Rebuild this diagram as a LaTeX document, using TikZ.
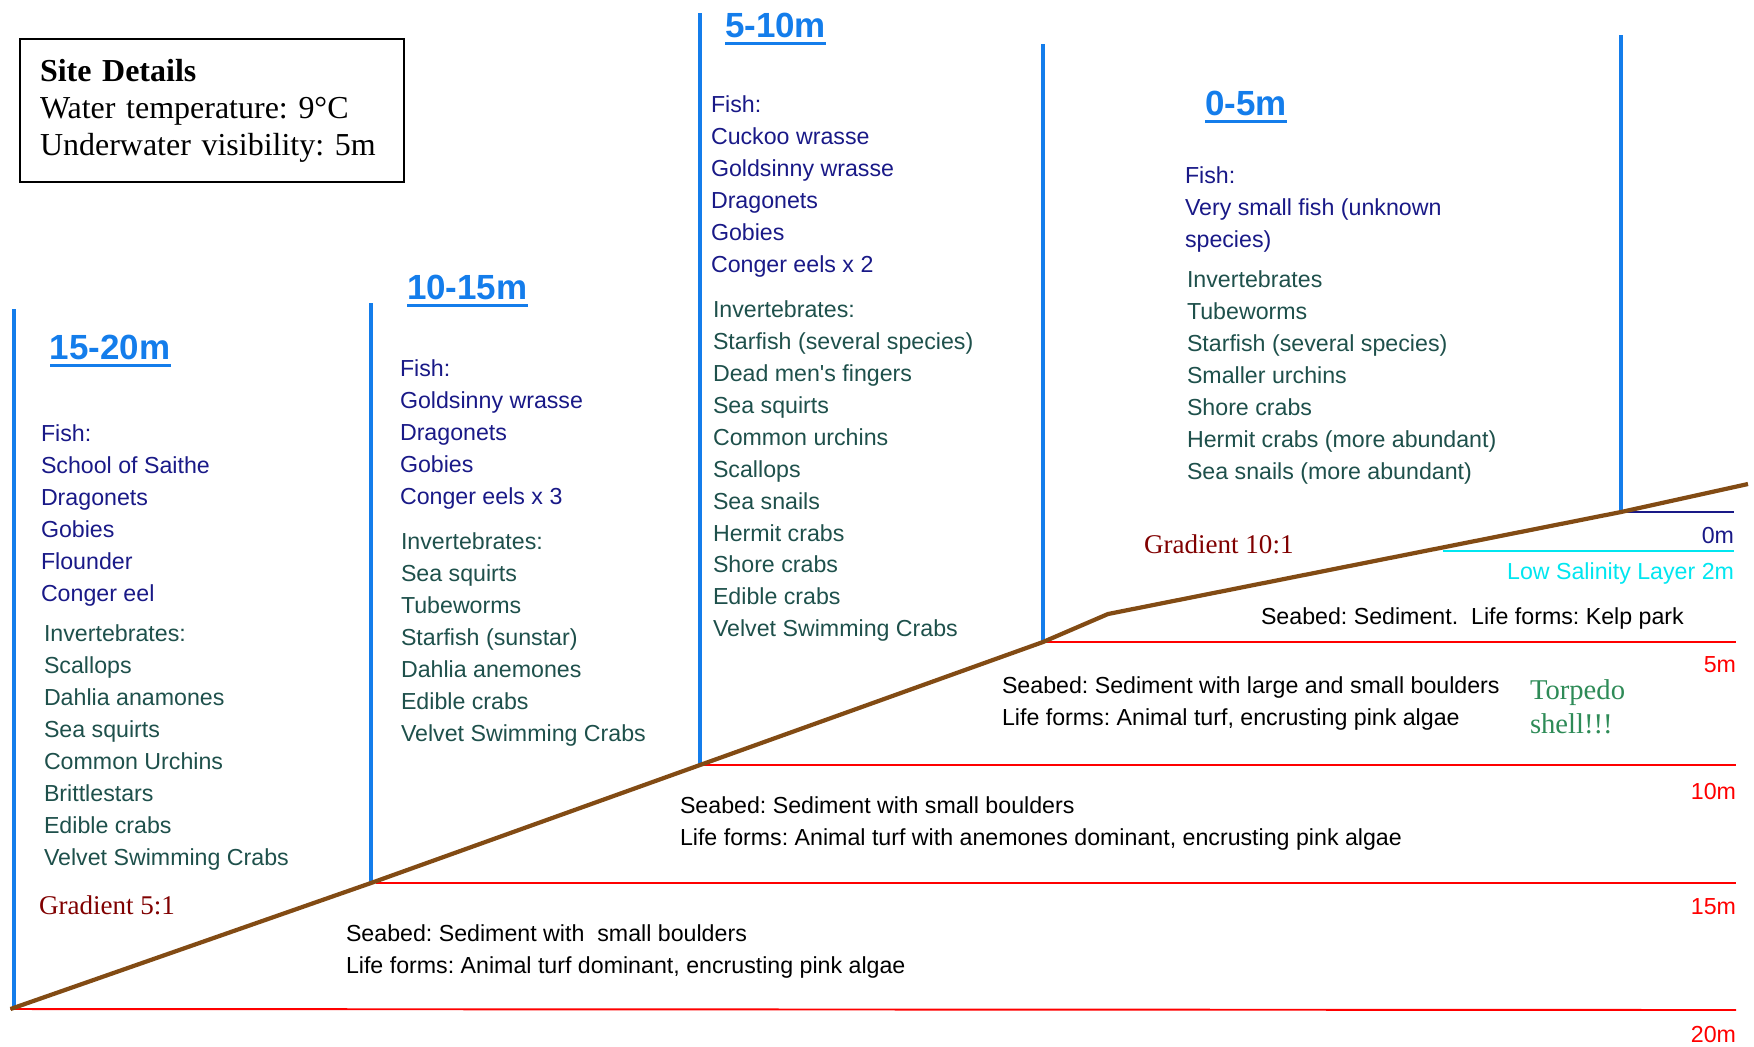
\documentclass[tikz,border=0pt]{standalone}
\usepackage{fontspec}
\setmainfont{Liberation Serif}
\setsansfont{Liberation Sans}
\usepackage{tikz}
\usepackage{xcolor}
\usetikzlibrary{arrows, positioning}
\frenchspacing

\definecolor{fishblue}{RGB}{25,25,135}
\definecolor{invgreen}{RGB}{30,80,75}
\definecolor{headblue}{RGB}{20,125,235}
\definecolor{slopebrown}{RGB}{130,75,20}
\definecolor{gradred}{RGB}{128,0,0}
\definecolor{torpgreen}{RGB}{46,139,87}
\definecolor{saltcyan}{RGB}{0,230,240}

\begin{document}
\begin{tikzpicture}[x=0.02cm,y=-0.02cm]
  \tikzstyle{every node}=[inner sep=0pt,outer sep=0pt]
  \tikzstyle{listtxt}=[anchor=north west,align=left,
                       font=\sffamily\fontsize{13.2}{18.15}\selectfont]
  \tikzstyle{fishtxt}=[listtxt,text=fishblue]
  \tikzstyle{invtxt}=[listtxt,text=invgreen]
  \tikzstyle{bedtxt}=[listtxt,text=black]
  \tikzstyle{depthtxt}=[anchor=base east,text=red,
                        font=\sffamily\fontsize{13.2}{16}\selectfont]
  \tikzstyle{headtxt}=[anchor=base west,text=headblue,
                       font=\sffamily\bfseries\fontsize{19.9}{24}\selectfont]
  \tikzstyle{headrule}=[draw=headblue,line width=1.8pt]
  \tikzstyle{wall}=[draw=headblue,line width=2pt]
  \tikzstyle{depthline}=[draw=red,line width=1.1pt]
  \tikzstyle{slopeline}=[draw=slopebrown,line width=2.4pt,line join=round]
  \tikzstyle{serifnote}=[anchor=base west,align=left]

  \useasboundingbox (0,0) rectangle (1754,1046);

  % site details
  \node[draw,line width=1.1pt,minimum width=7.68cm,minimum height=2.86cm,
        text width=6.88cm,inner xsep=0.4cm,align=left,
        font=\fontsize{18.2}{21}\selectfont] (box) at (212,110.5)
        {\textbf{Site Details}\\Water temperature: 9°C\\Underwater visibility: 5m};

  % seabed profile
  \coordinate (s0) at (14,1009);
  \coordinate (s1) at (371,883);
  \coordinate (s2) at (700,765);
  \coordinate (s3) at (1043,642);
  \coordinate (s4) at (1108,614);
  \coordinate (s5) at (1621,512);
  \coordinate (s6) at (1748,484);

  \coordinate (t0) at (14,309);
  \coordinate (t1) at (371,303);
  \coordinate (t2) at (700,13);
  \coordinate (t3) at (1043,44);
  \coordinate (t4) at (1621,35);

  \coordinate (e0) at (1734,512);
  \coordinate (e5) at (1736,642);
  \coordinate (e10) at (1736,765);
  \coordinate (e15) at (1736,883);
  \coordinate (e20) at (1736,1010);
  \coordinate (c0) at (1443,551);
  \coordinate (c1) at (1734,551);

  \draw[wall] (s0) -- (t0);
  \draw[wall] (s1) -- (t1);
  \draw[wall] (s2) -- (t2);
  \draw[wall] (s3) -- (t3);
  \draw[wall] (s5) -- (t4);

  \draw[depthline] (s3) -- (e5);
  \draw[depthline] ([xshift=2pt]s2) -- (e10);
  \draw[depthline] ([xshift=3pt]s1) -- (e15);
  \draw[depthline] ([xshift=-2pt]s0) -- (e20);
  \draw[draw=fishblue,line width=1.1pt] (s5) -- (e0);
  \draw[draw=saltcyan,line width=1.1pt] (c0) -- (c1);

  \draw[slopeline] ([xshift=-2pt]s0) -- (s1) -- (s2) -- (s3) -- (s4) -- (s5) -- (s6);

  % depth headings
  \node[headtxt] (h1) at (50,359) {15-20m};
  \node[headtxt] (h2) at (407,299) {10-15m};
  \node[headtxt] (h3) at (725,37) {5-10m};
  \node[headtxt] (h4) at (1205,115) {0-5m};
  \draw[headrule] ([yshift=-3.7pt]h1.base west) -- ([yshift=-3.7pt]h1.base east);
  \draw[headrule] ([yshift=-3.7pt]h2.base west) -- ([yshift=-3.7pt]h2.base east);
  \draw[headrule] ([yshift=-3.7pt]h3.base west) -- ([yshift=-3.7pt]h3.base east);
  \draw[headrule] ([yshift=-3.7pt]h4.base west) -- ([yshift=-3.7pt]h4.base east);

  % species lists
  \node[fishtxt] (f1) at (41,425)
        {Fish:\\School of Saithe\\Dragonets\\Gobies\\Flounder\\Conger eel};
  \node[invtxt] (i1) at (44,625)
        {Invertebrates:\\Scallops\\Dahlia anamones\\Sea squirts\\Common Urchins\\Brittlestars\\Edible crabs\\Velvet Swimming Crabs};

  \node[fishtxt] (f2) at (400,360)
        {Fish:\\Goldsinny wrasse\\Dragonets\\Gobies\\Conger eels x 3};
  \node[invtxt] (i2) at (401,533)
        {Invertebrates:\\Sea squirts\\Tubeworms\\Starfish (sunstar)\\Dahlia anemones\\Edible crabs\\Velvet Swimming Crabs};

  \node[fishtxt] (f3) at (711,96)
        {Fish:\\Cuckoo wrasse\\Goldsinny wrasse\\Dragonets\\Gobies\\Conger eels x 2};
  \node[invtxt] (i3) at (713,301)
        {Invertebrates:\\Starfish (several species)\\Dead men\textquotesingle s fingers\\Sea squirts\\Common urchins\\Scallops\\Sea snails\\Hermit crabs\\Shore crabs\\Edible crabs\\Velvet Swimming Crabs};

  \node[fishtxt] (f4) at (1185,167)
        {Fish:\\Very small fish (unknown\\species)};
  \node[invtxt] (i4) at (1187,271)
        {Invertebrates\\Tubeworms\\Starfish (several species)\\Smaller urchins\\Shore crabs\\Hermit crabs (more abundant)\\Sea snails (more abundant)};

  % seabed notes
  \node[bedtxt,anchor=base west] (b0) at (1261,624)
        {Seabed: Sediment.\ \ Life forms: Kelp park};
  \node[bedtxt] (b1) at (1002,677)
        {Seabed: Sediment with large and small boulders\\Life forms: Animal turf, encrusting pink algae};
  \node[bedtxt] (b2) at (680,797)
        {Seabed: Sediment with small boulders\\Life forms: Animal turf with anemones dominant, encrusting pink algae};
  \node[bedtxt] (b3) at (346,925)
        {Seabed: Sediment with\ \ small boulders\\Life forms: Animal turf dominant, encrusting pink algae};

  \node[serifnote,text=gradred,font=\fontsize{15.4}{19}\selectfont] (g1) at (39,914) {Gradient 5:1};
  \node[serifnote,text=gradred,font=\fontsize{15.4}{19}\selectfont] (g2) at (1144,553) {Gradient 10:1};
  \node[serifnote,text=torpgreen,font=\fontsize{16.3}{19.3}\selectfont,anchor=south west] (tp) at (1530,734)
        {Torpedo\\shell!!!};

  % depth marks
  \node[depthtxt,text=fishblue] (d0) at (1734,543) {0m};
  \node[depthtxt,text=saltcyan] (ls) at (1734,579) {Low Salinity Layer 2m};
  \node[depthtxt] (d5) at (1736,672) {5m};
  \node[depthtxt] (d10) at (1736,799) {10m};
  \node[depthtxt] (d15) at (1736,914) {15m};
  \node[depthtxt] (d20) at (1736,1042) {20m};
\end{tikzpicture}
\end{document}
